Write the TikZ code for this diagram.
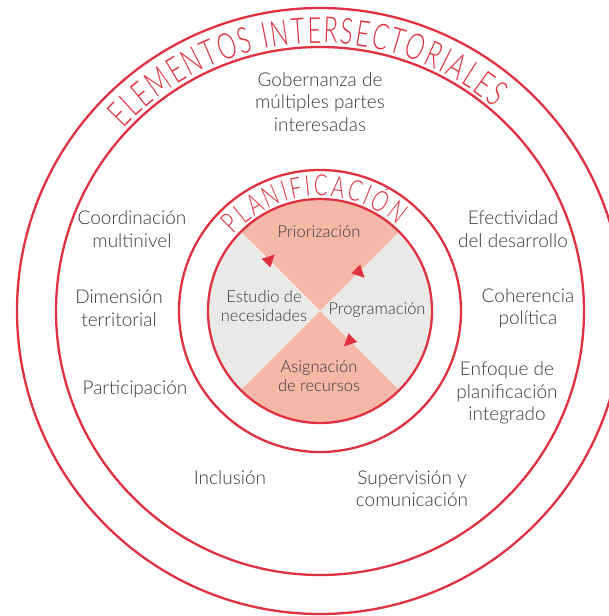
\documentclass[tikz,border=0pt]{standalone}
\usepackage{fontspec}
\IfFontExistsTF{Lato Light}{\def\crfam{Lato Light}}{\def\crfam{Lato}}
\setmainfont{\crfam}
\newfontfamily\crtitleA[FakeStretch=0.66]{\crfam}
\newfontfamily\crtitleB[FakeStretch=0.70]{\crfam}
\newcommand\crfontA{\crtitleA\fontsize{36}{36}\selectfont}
\newcommand\crfontB{\crtitleB\fontsize{29}{29}\selectfont}
\definecolor{crred}{HTML}{E03140}
\definecolor{crpink}{HTML}{F5B7A6}
\definecolor{crgray}{HTML}{EBE9E7}
\definecolor{crtext}{HTML}{3A3A3A}
\newdimen\crtmp
% #1 prefix, #2 font, #3 tracking (pt, number), #4 letters
\newcommand\crprep[4]{%
  \gdef\crsum{0}%
  \foreach \ch [count=\k] in {#4}{%
    \setbox0=\hbox{#2\ch}\global\crtmp=\wd0
    \pgfmathsetmacro\crc{\crsum+0.5*\crtmp}%
    \expandafter\xdef\csname cr#1c\k\endcsname{\crc}%
    \pgfmathsetmacro\crn{\crsum+\crtmp+#3}%
    \xdef\crsum{\crn}%
  }%
  \pgfmathsetmacro\crt{\crsum-#3}%
  \expandafter\xdef\csname cr#1tot\endcsname{\crt}%
}
\AtBeginDocument{%
  \crprep{A}{\crfontA}{2.0}{E,L,E,M,E,N,T,O,S,~,I,N,T,E,R,S,E,C,T,O,R,I,A,L,E,S}%
  \crprep{B}{\crfontB}{2.6}{P,L,A,N,I,F,I,C,A,C,I,Ó,N}%
}
\begin{document}
\begin{tikzpicture}[x=1pt,y=1pt,
  ring/.style={draw=crred, line width=2.3pt},
  lbl/.style={text=crtext, align=center, font=\fontsize{19}{22.5}\selectfont, inner sep=0pt},
  ilbl/.style={text=crtext, align=center, font=\fontsize{16.5}{18.5}\selectfont, inner sep=0pt},
  crletter/.style={text=crred, inner sep=0pt, anchor=base},
  arrowtri/.style={fill=crred}]
\useasboundingbox (0,0) rectangle (609,616);
\clip (0,0) rectangle (609,616);
\fill[white] (0,0) rectangle (609,616);
\coordinate (C) at (320,305);
% rings
\draw[ring] (C) circle[radius=303];
\draw[ring] (C) circle[radius=264];
\draw[ring] (C) circle[radius=141];
% quadrants
\fill[crpink] (C) -- ([shift={(45:112)}]C) arc[start angle=45, end angle=135, radius=112] -- cycle;
\fill[crgray] (C) -- ([shift={(135:112)}]C) arc[start angle=135, end angle=225, radius=112] -- cycle;
\fill[crpink] (C) -- ([shift={(225:112)}]C) arc[start angle=225, end angle=315, radius=112] -- cycle;
\fill[crgray] (C) -- ([shift={(315:112)}]C) arc[start angle=315, end angle=405, radius=112] -- cycle;
\draw[ring] (C) circle[radius=112];
% arrows
\path (C) ++(135:72) coordinate (a1);
\path (C) ++(45:55) coordinate (a2);
\path (C) ++(-45:42) coordinate (a3);
\fill[arrowtri] ([shift={(45:8)}]a1) -- ([shift={(170:7.5)}]a1) -- ([shift={(-80:7.5)}]a1) -- cycle;
\fill[arrowtri] ([shift={(-45:8)}]a2) -- ([shift={(80:7.5)}]a2) -- ([shift={(-170:7.5)}]a2) -- cycle;
\fill[arrowtri] ([shift={(-135:8)}]a3) -- ([shift={(-10:7.5)}]a3) -- ([shift={(100:7.5)}]a3) -- cycle;
% curved titles
\foreach \ch [count=\k] in {E,L,E,M,E,N,T,O,S,~,I,N,T,E,R,S,E,C,T,O,R,I,A,L,E,S}{%
  \edef\crcc{\csname crAc\k\endcsname}%
  \pgfmathsetmacro\crang{93.3+(0.5*\crAtot-\crcc)/268*57.29578}%
  \node[crletter, font=\crfontA, rotate=\crang-90] (ta\k) at ([shift={(\crang:268)}]C) {\ch};
}
\foreach \ch [count=\k] in {P,L,A,N,I,F,I,C,A,C,I,Ó,N}{%
  \edef\crcc{\csname crBc\k\endcsname}%
  \pgfmathsetmacro\crang{93.2+(0.5*\crBtot-\crcc)/115*57.29578}%
  \node[crletter, font=\crfontB, rotate=\crang-90] (tb\k) at ([shift={(\crang:115)}]C) {\ch};
}
% outer labels
\node[lbl] (gob) at (320,514) {Gobernanza de\\múltiples partes\\interesadas};
\node[lbl] (coord) at (132,387) {Coordinación\\multinivel};
\node[lbl] (dim) at (119,307.5) {Dimensión\\territorial};
\node[lbl] (part) at (135,227) {Participación};
\node[lbl] (incl) at (230,138) {Inclusión};
\node[lbl] (sup) at (412,127) {Supervisión y\\comunicación};
\node[lbl] (enf) at (507,223) {Enfoque de\\planificación\\integrado};
\node[lbl] (coh) at (528,307.5) {Coherencia\\política};
\node[lbl] (efe) at (513,387) {Efectividad\\del desarrollo};
% inner labels
\node[ilbl] (prio) at (319,384) {Priorización};
\node[ilbl] (est) at (264,310) {Estudio de\\necesidades};
\node[ilbl] (prog) at (377,306) {Programación};
\node[ilbl] (asig) at (319,240) {Asignación\\de recursos};
\end{tikzpicture}
\end{document}
